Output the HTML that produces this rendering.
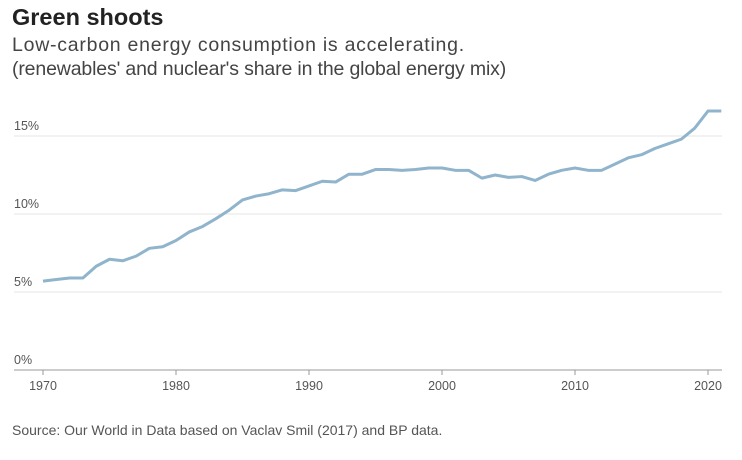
<!DOCTYPE html>
<html><head><meta charset="utf-8"><style>
body{margin:0;background:#fff;width:742px;height:460px;overflow:hidden;font-family:"Liberation Sans",sans-serif}
#t{position:absolute;left:12px;top:4px;font-size:23.5px;font-weight:bold;color:#222}
#s{position:absolute;left:12px;top:33px;font-size:19.5px;color:#444;line-height:24px}
#s1{letter-spacing:0.75px}
#s2{letter-spacing:-0.15px}
#src{position:absolute;left:12px;top:422px;font-size:14px;color:#555}
svg{position:absolute;left:0;top:0}
</style></head><body>
<div id="t">Green shoots</div>
<div id="s"><span id="s1">Low-carbon energy consumption is accelerating.</span><br><span id="s2">(renewables' and nuclear's share in the global energy mix)</span></div>
<svg id="c" width="742" height="460"></svg>
<div id="src">Source: Our World in Data based on Vaclav Smil (2017) and BP data.</div>
<script>
const years=[1970,1971,1972,1973,1974,1975,1976,1977,1978,1979,1980,1981,1982,1983,1984,1985,1986,1987,1988,1989,1990,1991,1992,1993,1994,1995,1996,1997,1998,1999,2000,2001,2002,2003,2004,2005,2006,2007,2008,2009,2010,2011,2012,2013,2014,2015,2016,2017,2018,2019,2020,2021];
const share=[5.7,5.8,5.9,5.9,6.65,7.1,7.0,7.3,7.8,7.9,8.3,8.85,9.2,9.7,10.25,10.9,11.15,11.3,11.55,11.5,11.8,12.1,12.05,12.55,12.55,12.85,12.85,12.8,12.85,12.95,12.95,12.8,12.8,12.3,12.5,12.35,12.4,12.15,12.55,12.8,12.95,12.8,12.8,13.2,13.6,13.8,14.2,14.5,14.8,15.5,16.6,16.6];
const yTicks=[0,5,10,15];
const xTicks=[1970,1980,1990,2000,2010,2020];
const NS="http://www.w3.org/2000/svg",svg=document.getElementById('c');
const x=v=>43+(v-1970)*13.3, y=v=>370-v*15.6;
function mk(tag,at){const e=document.createElementNS(NS,tag);for(const k in at)e.setAttribute(k,at[k]);svg.appendChild(e);return e;}
yTicks.forEach(v=>{
 const l=mk('line',{x1:14,x2:722,y1:y(v),y2:y(v),stroke:v===0?'#999':'#e6e6e6','stroke-width':1});
 
 
 const t=mk('text',{x:14,y:y(v)-6,'font-size':12.5,fill:'#555','font-family':'Liberation Sans'});
 t.textContent=v+'%';
 
 
});
xTicks.forEach(v=>{
 const l=mk('line',{x1:x(v),x2:x(v),y1:370,y2:375,stroke:'#999'});
 
 
 const t=mk('text',{x:x(v),y:390,'font-size':12.5,fill:'#555','text-anchor':'middle','font-family':'Liberation Sans'});
 t.textContent=v;
 
 
});
const p=mk('polyline',{points:years.map((yr,i)=>x(yr)+','+y(share[i])).join(' '),fill:'none',stroke:'#8fb4cc','stroke-width':3,'stroke-linejoin':'round'});


</script>
</body></html>
